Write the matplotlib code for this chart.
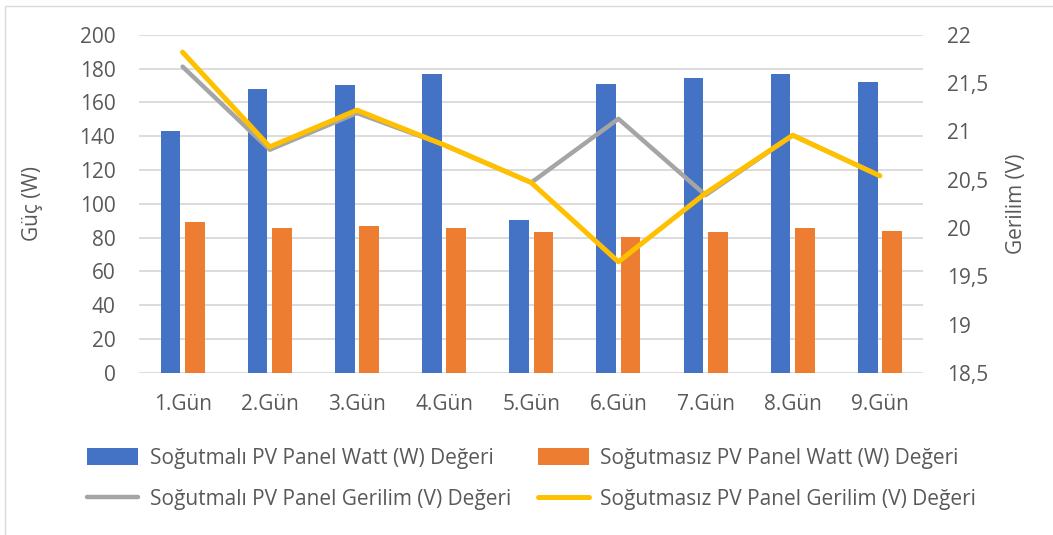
import matplotlib.pyplot as plt
from matplotlib.patches import Rectangle
from matplotlib.ticker import FuncFormatter
import numpy as np

plt.rcParams['font.family'] = ['Open Sans', 'DejaVu Sans']

gunler = ["1.Gün", "2.Gün", "3.Gün", "4.Gün", "5.Gün", "6.Gün", "7.Gün", "8.Gün", "9.Gün"]
sogutmali_watt = [143, 168, 170.5, 177, 90.5, 171, 174.5, 177, 172]
sogutmasiz_watt = [89.5, 85.5, 87, 85.5, 83.5, 80.5, 83.5, 86, 84]
sogutmali_gerilim = [21.67, 20.81, 21.19, 20.86, 20.47, 21.13, 20.34, 20.96, 20.54]
sogutmasiz_gerilim = [21.82, 20.84, 21.22, 20.86, 20.47, 19.65, 20.36, 20.96, 20.54]

renk_mavi = "#4472C4"
renk_turuncu = "#ED7D31"
renk_gri = "#A5A5A5"
renk_sari = "#FFC000"
yazi = "#595959"

fig = plt.figure(figsize=(10.53, 5.35), dpi=100)
fig.patches.append(Rectangle((0.005, -0.01), 1.2, 0.999, transform=fig.transFigure,
                             fill=False, edgecolor="#D9D9D9", linewidth=1))
ax = fig.add_axes([0.132, 0.303, 0.745, 0.632])
ax2 = ax.twinx()

x = np.arange(len(gunler))
g = 0.225
b1 = ax.bar(x - 0.14, sogutmali_watt, g, color=renk_mavi, zorder=2)
b2 = ax.bar(x + 0.14, sogutmasiz_watt, g, color=renk_turuncu, zorder=2)
l1, = ax2.plot(x, sogutmali_gerilim, color=renk_gri, linewidth=3.2, solid_capstyle="round")
l2, = ax2.plot(x, sogutmasiz_gerilim, color=renk_sari, linewidth=3.6, solid_capstyle="round")

ax.set_xlim(-0.5, 8.5)
ax.set_ylim(0, 200)
ax.set_yticks(range(0, 201, 20))
ax2.set_ylim(18.5, 22)
ax2.set_yticks(np.arange(18.5, 22.01, 0.5))
ax2.yaxis.set_major_formatter(FuncFormatter(lambda v, p: ("%g" % v).replace(".", ",")))

ax.set_xticks(x)
ax.set_xticklabels(gunler)
ax.grid(axis="y", color="#D9D9D9", linewidth=1.3, zorder=0)
for a in (ax, ax2):
    for s in a.spines.values():
        s.set_visible(False)
    a.tick_params(length=0, labelsize=15, colors=yazi)
ax.tick_params(axis="y", pad=17)
ax.tick_params(axis="x", pad=15)
ax2.tick_params(axis="y", pad=17)

ax.set_ylabel("Güç (W)", fontsize=15, color=yazi, labelpad=26)
ax2.set_ylabel("Gerilim (V)", fontsize=15, color=yazi, labelpad=13)

fig.legend([b1, l1, b2, l2],
           ["Soğutmalı PV Panel Watt (W) Değeri", "Soğutmalı PV Panel Gerilim (V) Değeri",
            "Soğutmasız PV Panel Watt (W) Değeri", "Soğutmasız PV Panel Gerilim (V) Değeri"],
           ncol=2, loc="center", bbox_to_anchor=(0.505, 0.105), frameon=False,
           fontsize=15, labelcolor=yazi, handlelength=2.45, handleheight=0.9,
           columnspacing=1.3, handletextpad=0.55, labelspacing=0.95)

fig.savefig("out.png", dpi=100)
